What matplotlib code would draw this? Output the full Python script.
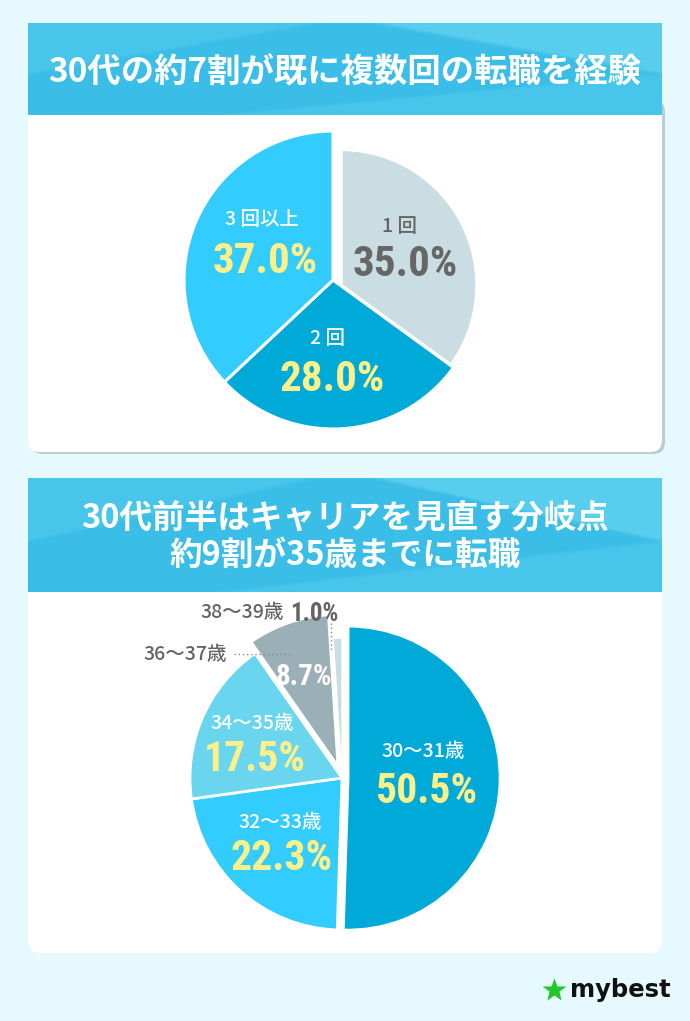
import numpy as np
import matplotlib
matplotlib.use("Agg")
import matplotlib.pyplot as plt
from matplotlib.patches import FancyBboxPatch
from matplotlib import font_manager as fm

# ---------------- data ----------------
title1 = "30代の約7割が既に複数回の転職を経験"
pie1_labels = ["1回", "2回", "3回以上"]
pie1_values = [35.0, 28.0, 37.0]

title2_lines = ["30代前半はキャリアを見直す分岐点", "約9割が35歳までに転職"]
pie2_labels = ["30〜31歳", "32〜33歳", "34〜35歳", "36〜37歳", "38〜39歳"]
pie2_values = [50.5, 22.3, 17.5, 8.7, 1.0]

brand = "mybest"

# ---------------- style ----------------
W, H, DPI = 690, 1021, 100
BG = "#E6F9FE"
YELLOW = "#FDF08A"
GRAY_TXT = "#646464"
pie1_colors = ["#C9DDE3", "#00AAD8", "#33CCFF"]
pie2_colors = ["#00AAD8", "#33CCFF", "#6AD5EF", "#9AAFB6", "#C9DDE3"]

JP = "Noto Sans CJK JP"
plt.rcParams["font.family"] = [JP, "DejaVu Sans"]


def pick(cands):
    names = {f.name for f in fm.fontManager.ttflist}
    for c in cands:
        if c in names:
            return c
    return "DejaVu Sans"


NUM = pick(["Liberation Sans Narrow", "Roboto Condensed", "DejaVu Sans"])

fig = plt.figure(figsize=(W / DPI, H / DPI), dpi=DPI)
fig.patch.set_facecolor(BG)
bg = fig.add_axes([0, 0, 1, 1])
bg.set_xlim(0, W)
bg.set_ylim(H, 0)
bg.axis("off")


def header(y0, y1):
    x0, x1 = 28, 662
    w, h = x1 - x0, y1 - y0
    X, Y = np.meshgrid(np.arange(w, dtype=float), np.arange(int(h), dtype=float))
    base = np.array([58, 190, 232]) / 255.0
    lite = np.array([125, 224, 247]) / 255.0
    f = np.zeros_like(X)
    l1 = 0.55 * h - X * (0.55 * h / (0.45 * w))
    f += 0.22 * np.clip((l1 - Y) / 4 + 0.5, 0, 1)
    l2 = (X - 0.55 * w) * (0.55 * h / (0.45 * w))
    f += 0.45 * np.clip((l2 - Y) / 4 + 0.5, 0, 1)
    l3 = h - (X - 0.3 * w) * (0.45 * h / (0.7 * w))
    f += 0.22 * np.clip((Y - l3) / 4 + 0.5, 0, 1)
    f = np.clip(f, 0, 0.7)
    img = base * (1 - f[..., None]) + lite * f[..., None]
    bg.imshow(img, extent=(x0, x1, y1, y0), origin="upper", aspect="auto",
              interpolation="bilinear", zorder=3)


def card(y0, y1, shadow=True):
    if shadow:
        bg.add_patch(FancyBboxPatch((31, y0), 634, y1 - y0 + 2,
                                    boxstyle="round,pad=0,rounding_size=12",
                                    fc="#B9CDD3", ec="none", zorder=1))
    bg.add_patch(FancyBboxPatch((28, y0), 634, y1 - y0,
                                boxstyle="round,pad=0,rounding_size=12",
                                fc="white", ec="none", zorder=2))


# panel 1
card(100, 452, shadow=True)
header(23, 115)
bg.text(345, 73, title1, color="white", fontsize=24, fontweight="bold",
        ha="center", va="center", zorder=5)

# panel 2
card(560, 953, shadow=False)
header(478, 592)
bg.text(345, 519, title2_lines[0], color="white", fontsize=23.5, fontweight="bold",
        ha="center", va="center", zorder=5)
bg.text(345, 555, title2_lines[1], color="white", fontsize=23.5, fontweight="bold",
        ha="center", va="center", zorder=5)
bg.set_xlim(0, W)
bg.set_ylim(H, 0)


def pie_axes(cx, cy, R, lim=1.15):
    half = R * lim
    ax = fig.add_axes([(cx - half) / W, 1 - (cy + half) / H, 2 * half / W, 2 * half / H])
    return ax, lim


# ---- pie 1 ----
ax1, lim = pie_axes(333, 280, 149)
w1, _ = ax1.pie(pie1_values, colors=pie1_colors, startangle=90, counterclock=False,
                wedgeprops=dict(edgecolor="white", linewidth=2.2))
w1[0].set_center((0.055, -0.035))
w1[0].set_radius(0.91)
ax1.set_xlim(-lim, lim)
ax1.set_ylim(-lim, lim)
ax1.axis("off")

# ---- pie 2 ----
ax2, lim = pie_axes(342, 778, 152)
w2, _ = ax2.pie(pie2_values, colors=pie2_colors, startangle=90, counterclock=False,
                explode=[0.04, 0, 0, 0.08, 0],
                wedgeprops=dict(edgecolor="white", linewidth=2.0))
w2[4].set_radius(0.92)
w2[4].set_linewidth(1.0)
ax2.set_xlim(-lim, lim)
ax2.set_ylim(-lim, lim)
ax2.axis("off")


def pct(v):
    return f"{v:.1f}%"


# overlay above pies
ov = fig.add_axes([0, 0, 1, 1])
ov.set_xlim(0, W)
ov.set_ylim(H, 0)
ov.axis("off")
ov.patch.set_alpha(0)


def ntext(x, y, s, color="white", size=14, ha="center"):
    ov.text(x, y, s, color=color, fontsize=size, ha=ha, va="center",
            fontweight=500, family=[JP, "DejaVu Sans"])


def ptext(x, cy, s, color=YELLOW, size=31, ha="center"):
    cap = size * DPI / 72 * 0.72
    ov.text(x, cy + cap / 2, s, color=color, fontsize=size, fontweight="bold",
            family=[NUM, "DejaVu Sans"], ha=ha, va="baseline")


def spaced(lbl):
    # small gap after the leading count digit, as in the original artwork
    return lbl[0] + " " + lbl[1:]


# pie 1 labels
ntext(400, 226, spaced(pie1_labels[0]), color=GRAY_TXT)
ptext(405, 260, pct(pie1_values[0]), color="#666666")
ntext(327, 338, spaced(pie1_labels[1]))
ptext(332, 375, pct(pie1_values[1]))
ntext(262, 219, spaced(pie1_labels[2]))
ptext(265, 257, pct(pie1_values[2]))

# pie 2 labels
ntext(423, 751, pie2_labels[0])
ptext(426, 788, pct(pie2_values[0]), size=30)
ntext(280, 822, pie2_labels[1])
ptext(282, 855, pct(pie2_values[1]), size=30)
ntext(252, 723, pie2_labels[2])
ptext(255, 756, pct(pie2_values[2]), size=30)
ptext(304, 674, pct(pie2_values[3]), color="white", size=21)
ntext(227, 654, pie2_labels[3], color=GRAY_TXT, ha="right")
ov.plot([234, 292], [654, 654], ls=(0, (1, 2)), color="#8A8A8A", lw=1)
ntext(284, 612, pie2_labels[4], color=GRAY_TXT, ha="right")
cap = 18 * DPI / 72 * 0.72
ov.text(290, 612 + cap / 2, pct(pie2_values[4]), color=GRAY_TXT, fontsize=18,
        fontweight="bold", family=[NUM, "DejaVu Sans"], ha="left", va="baseline")
ov.plot([331, 331], [623, 652], ls=(0, (1, 2)), color="#8A8A8A", lw=1)

# brand
ov.plot([554], [990], marker="*", ms=18, color="#22C829", mec="none")
ov.text(570, 990, brand, color="#111111", fontsize=17.5, fontweight="bold",
        family=["DejaVu Sans"], ha="left", va="center")

fig.savefig("out.png", dpi=DPI, facecolor=BG)
